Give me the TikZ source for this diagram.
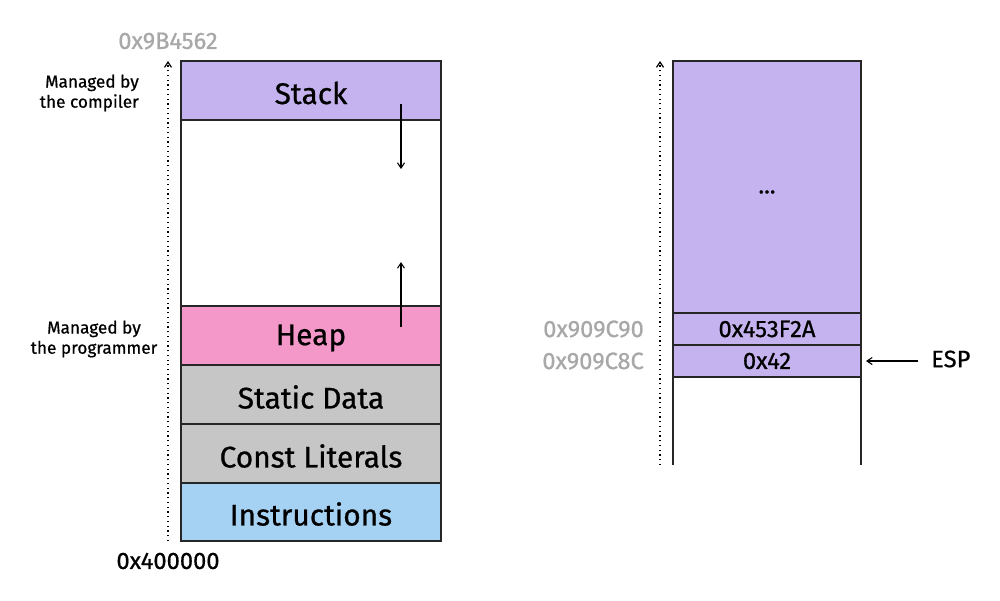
\documentclass[tikz,border=0pt]{standalone}
\usepackage{fontspec}
\setmainfont{Fira Sans}[FakeBold=0.7]
\usetikzlibrary{arrows.meta}
\definecolor{stackc}{HTML}{C4B3EE}
\definecolor{heapc}{HTML}{F398C8}
\definecolor{grayc}{HTML}{C6C6C6}
\definecolor{instc}{HTML}{A5D1F3}
\definecolor{lblgray}{HTML}{A8A8A8}
\tikzset{
  seg/.style={draw=black!85, line width=0.6pt, font=\fontsize{17}{20}\selectfont},
  addr/.style={font=\fontsize{13.5}{16}\selectfont, text=lblgray},
  addrb/.style={font=\fontsize{13.5}{16}\selectfont, text=black},
  mgd/.style={font=\fontsize{9.8}{11.5}\selectfont, align=center},
  axisline/.style={dotted, line width=0.7pt, -{Straight Barb[length=3pt,width=4pt]}},
  growarrow/.style={line width=0.6pt, -{Straight Barb[length=3pt,width=4pt]}},
  cell/.style={draw=black!85, line width=0.6pt, font=\fontsize{13.5}{16}\selectfont},
}
\begin{document}
\begin{tikzpicture}[x=0.02cm,y=-0.02cm]
\useasboundingbox (0,0) rectangle (1000,600);
% left column
\draw[seg, fill=stackc] (181,61) rectangle (441,120);
\node[seg, draw=none] (stack) at (311,93) {Stack};
\draw[seg, fill=white] (181,120) rectangle (441,306);
\draw[seg, fill=heapc] (181,306) rectangle (441,365);
\node[seg, draw=none] (heap) at (311,338) {Heap};
\draw[seg, fill=grayc] (181,365) rectangle (441,424);
\node[seg, draw=none] (static) at (311,397) {Static Data};
\draw[seg, fill=grayc] (181,424) rectangle (441,483);
\node[seg, draw=none] (const) at (311,456) {Const Literals};
\draw[seg, fill=instc] (181,483) rectangle (441,541);
\node[seg, draw=none] (instr) at (311,514) {Instructions};
\coordinate (sa) at (401,104);
\coordinate (sb) at (401,169);
\coordinate (ha) at (401,327);
\coordinate (hb) at (401,262);
\draw[growarrow] (sa) -- (sb);
\draw[growarrow] (ha) -- (hb);
\coordinate (axb) at (168,541);
\coordinate (axt) at (168,61);
\draw[axisline] (axb) -- (axt);
\node[addr] (top) at (168,41) {0x9B4562};
\node[addrb] (bot) at (168,561) {0x400000};
\node[mgd, align=right, anchor=east] (mc) at (145,93) {Managed by\\the compiler};
\node[mgd] (mp) at (94,339) {Managed by\\the programmer};
% right column
\draw[cell, fill=stackc] (673,61) rectangle (861,313);
\node[cell, draw=none] (dots) at (767,192) {...};
\draw[cell, fill=stackc] (673,313) rectangle node (v1) {0x453F2A} (861,345);
\draw[cell, fill=stackc] (673,345) rectangle node (v2) {0x42} (861,377);
\draw[cell] (673,377) -- (673,465);
\draw[cell] (861,377) -- (861,465);
\coordinate (rb) at (660,465);
\coordinate (rt) at (660,61);
\draw[axisline] (rb) -- (rt);
\node[addr, anchor=east] (a1) at (650,329) {0x909C90};
\node[addr, anchor=east] (a2) at (650,361) {0x909C8C};
\node[addrb, anchor=west] (esp) at (925,359) {ESP};
\coordinate (espt) at (866,361);
\coordinate (esps) at (918,361);
\draw[growarrow] (esps) -- (espt);
\end{tikzpicture}
\end{document}
